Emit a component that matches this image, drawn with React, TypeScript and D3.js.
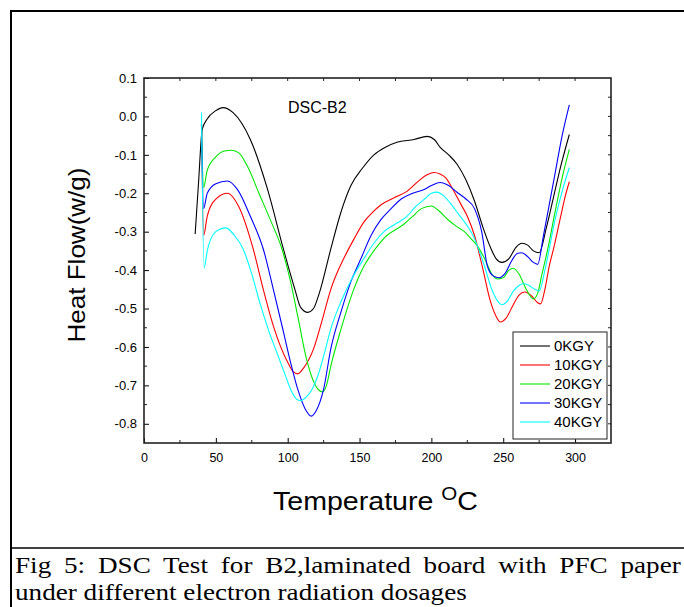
import React, { useRef, useEffect, useLayoutEffect, useState } from 'react';
import * as d3 from 'd3';

// tick values
const xTicks = [0, 50, 100, 150, 200, 250, 300];
const xMinor = [25, 75, 125, 175, 225, 275, 325];
const yTicks = [0.1, 0.0, -0.1, -0.2, -0.3, -0.4, -0.5, -0.6, -0.7, -0.8];
const yMinor = [0.05, -0.05, -0.15, -0.25, -0.35, -0.45, -0.55, -0.65, -0.75, -0.85];

const seriesNames = ['0KGY', '10KGY', '20KGY', '30KGY', '40KGY'];
const seriesColors = ['#000000', '#ff0000', '#00e800', '#0000ff', '#00ffff'];

// 0KGY
const temp0 = [35.6, 38, 40.5, 43.7, 50, 55, 62, 74, 86, 97, 105, 109, 114, 118, 122, 130, 137, 144, 152, 160, 168, 176, 188, 197, 202, 206, 212, 218, 224, 230, 236, 241, 245, 249, 254, 259, 263, 267, 271, 275, 280, 285, 290, 296];
const flow0 = [-0.306, -0.17, -0.034, -0.008, 0.015, 0.023, 0.01, -0.06, -0.19, -0.345, -0.45, -0.497, -0.51, -0.5, -0.46, -0.345, -0.25, -0.18, -0.135, -0.1, -0.08, -0.067, -0.06, -0.052, -0.06, -0.08, -0.1, -0.125, -0.165, -0.22, -0.29, -0.34, -0.37, -0.38, -0.37, -0.34, -0.33, -0.335, -0.35, -0.355, -0.29, -0.21, -0.13, -0.047];

// 10KGY
const temp10 = [40, 41.5, 44, 50, 58, 66, 76, 83, 90, 100, 104, 107, 111, 118, 124, 130, 139, 146, 153, 159, 165, 175, 183, 192, 197, 202, 206, 210, 215, 220, 225, 230, 236, 241, 245, 248, 252, 257, 261, 265, 270, 274, 276, 279, 282, 285, 290, 293, 296];
const flow10 = [-0.02, -0.31, -0.26, -0.215, -0.2, -0.235, -0.345, -0.45, -0.545, -0.64, -0.665, -0.67, -0.655, -0.605, -0.53, -0.45, -0.37, -0.32, -0.275, -0.25, -0.23, -0.21, -0.195, -0.165, -0.152, -0.146, -0.15, -0.16, -0.19, -0.225, -0.26, -0.31, -0.4, -0.48, -0.52, -0.535, -0.525, -0.49, -0.465, -0.457, -0.468, -0.485, -0.488, -0.45, -0.39, -0.345, -0.26, -0.21, -0.17];

// 20KGY
const temp20 = [40, 41.5, 44, 50, 56, 61, 66, 72, 80, 88, 96, 102, 107, 113, 118, 121, 124, 127, 130, 137, 145, 153, 158, 163, 169, 175, 181, 187, 193, 200, 205, 211, 217, 223, 228, 232, 237, 242, 246, 250, 254, 257, 261, 266, 271, 274, 277, 281, 286, 291, 296];
const flow20 = [-0.02, -0.185, -0.14, -0.105, -0.09, -0.088, -0.095, -0.13, -0.2, -0.27, -0.345, -0.43, -0.52, -0.63, -0.69, -0.71, -0.717, -0.7, -0.65, -0.555, -0.46, -0.39, -0.36, -0.335, -0.31, -0.295, -0.28, -0.26, -0.24, -0.233, -0.245, -0.267, -0.285, -0.3, -0.32, -0.337, -0.37, -0.41, -0.423, -0.42, -0.4, -0.395, -0.41, -0.45, -0.475, -0.46, -0.41, -0.345, -0.25, -0.16, -0.086];

// 30KGY
const temp30 = [40, 41.5, 44, 50, 58, 65, 74, 83, 90, 97, 102, 107, 112, 116.5, 120, 125, 130, 137, 144, 151, 158, 165, 172, 179, 187, 195, 200, 206, 212, 218, 224, 230, 235, 239, 243, 247, 251, 256, 260, 263, 267, 271, 274, 278, 282, 286, 291, 296];
const flow30 = [-0.02, -0.24, -0.2, -0.175, -0.168, -0.19, -0.26, -0.345, -0.45, -0.56, -0.64, -0.71, -0.76, -0.78, -0.765, -0.71, -0.605, -0.51, -0.43, -0.37, -0.31, -0.268, -0.24, -0.215, -0.2, -0.19, -0.18, -0.172, -0.18, -0.198, -0.215, -0.24, -0.3, -0.39, -0.415, -0.42, -0.41, -0.375, -0.356, -0.355, -0.365, -0.38, -0.385, -0.31, -0.23, -0.15, -0.05, 0.03];

// 40KGY
const temp40 = [40, 41.8, 44, 50, 57, 63, 69, 75, 81, 87, 93, 98, 102, 106, 109, 113, 117, 121, 126, 130, 137, 145, 153, 160, 167, 175, 183, 189, 195, 200, 204, 208, 213, 219, 225, 229, 232, 237, 242, 246, 249, 253, 257, 261, 264, 268, 272, 275, 279, 282, 286, 291, 296];
const flow40 = [0.01, -0.395, -0.35, -0.3, -0.29, -0.31, -0.345, -0.41, -0.49, -0.56, -0.62, -0.67, -0.71, -0.735, -0.74, -0.73, -0.71, -0.675, -0.61, -0.553, -0.483, -0.42, -0.37, -0.33, -0.3, -0.28, -0.26, -0.235, -0.216, -0.2, -0.197, -0.205, -0.225, -0.255, -0.285, -0.31, -0.337, -0.39, -0.45, -0.48, -0.49, -0.48, -0.455, -0.44, -0.435, -0.44, -0.45, -0.454, -0.4, -0.345, -0.27, -0.195, -0.133];

const temps = [temp0, temp10, temp20, temp30, temp40];
const flows = [flow0, flow10, flow20, flow30, flow40];

const captionLine1 = 'Fig 5: DSC Test for B2,laminated board with PFC paper';
const captionLine2 = 'under different electron radiation dosages';

const sans = '"Liberation Sans", Arial, sans-serif';
const serif = '"Liberation Serif", "Times New Roman", serif';

export default function App() {
  const svgRef = useRef<SVGSVGElement>(null);
  const cap1Ref = useRef<SVGTextElement>(null);
  const cap2Ref = useRef<SVGTextElement>(null);
  const [cap, setCap] = useState({ s: 1, ws: 0 });

  const width = 684;
  const height = 607;
  const margin = { top: 78, right: 73, bottom: 164, left: 144 };

  useLayoutEffect(() => {
    // the caption in the original is stretched a bit and line 1 is justified
    if (!cap1Ref.current || !cap2Ref.current) return;
    const len1 = cap1Ref.current.getComputedTextLength();
    const len2 = cap2Ref.current.getComputedTextLength();
    const s = 452 / len2;
    const gaps = captionLine1.split(' ').length - 1;
    setCap({ s, ws: (666 / s - len1) / gaps });
  }, []);

  useEffect(() => {
    const svg = d3.select(svgRef.current);
    svg.select('.chart').remove();
    const g = svg.append('g').attr('class', 'chart');

    const x = d3.scaleLinear().domain([0, 325]).range([margin.left, width - margin.right]);
    const y = d3.scaleLinear().domain([-0.85, 0.1]).range([height - margin.bottom, margin.top]);
    const x0 = margin.left, x1 = width - margin.right;
    const y0 = height - margin.bottom, y1 = margin.top;

    // bottom axis
    const bottom = g.append('g')
      .attr('transform', `translate(0,${y0})`)
      .call(d3.axisBottom(x).tickValues(xTicks).tickSize(-5).tickPadding(10).tickFormat(d => String(d)));
    bottom.select('.domain').remove();
    bottom.selectAll('text').style('font', `12.5px ${sans}`).attr('fill', '#000');

    // left axis
    const left = g.append('g')
      .attr('transform', `translate(${x0},0)`)
      .call(d3.axisLeft(y).tickValues(yTicks).tickSize(-5).tickPadding(7).tickFormat(d => (+d).toFixed(1)));
    left.select('.domain').remove();
    left.selectAll('text').style('font', `13px ${sans}`).attr('fill', '#000');

    // minor + mirrored ticks
    const tk = g.append('g').attr('stroke', '#222').attr('stroke-width', 1);
    xMinor.filter(d => d < 325).forEach(d => {
      tk.append('line').attr('x1', x(d)).attr('x2', x(d)).attr('y1', y0).attr('y2', y0 - 3);
    });
    xTicks.concat(xMinor).filter(d => d > 0 && d < 325).forEach(d => {
      tk.append('line').attr('x1', x(d)).attr('x2', x(d)).attr('y1', y1).attr('y2', y1 + 3);
    });
    yMinor.filter(d => d > -0.85).forEach(d => {
      tk.append('line').attr('x1', x0).attr('x2', x0 + 3).attr('y1', y(d)).attr('y2', y(d));
    });
    yTicks.concat(yMinor).filter(d => d > -0.85 && d < 0.1).forEach(d => {
      tk.append('line').attr('x1', x1).attr('x2', x1 - 3).attr('y1', y(d)).attr('y2', y(d));
    });

    // curves
    const line = d3.line<[number, number]>()
      .x(d => x(d[0]))
      .y(d => y(d[1]))
      .curve(d3.curveMonotoneX);

    temps.forEach((t, i) => {
      const pts = t.map((v, j) => [v, flows[i][j]] as [number, number]);
      g.append('path')
        .datum(pts)
        .attr('fill', 'none')
        .attr('stroke', seriesColors[i])
        .attr('stroke-width', 1.1)
        .attr('d', line);
    });

    // frame
    g.append('rect')
      .attr('x', x0).attr('y', y1)
      .attr('width', x1 - x0).attr('height', y0 - y1)
      .attr('fill', 'none').attr('stroke', '#222').attr('stroke-width', 1.6);

    // legend
    const lg = g.append('g');
    lg.append('rect')
      .attr('x', 513).attr('y', 332).attr('width', 94).attr('height', 107)
      .attr('fill', '#fff').attr('stroke', '#222').attr('stroke-width', 1);
    seriesNames.forEach((name, i) => {
      const ly = 346 + i * 19;
      lg.append('line')
        .attr('x1', 520).attr('x2', 550).attr('y1', ly).attr('y2', ly)
        .attr('stroke', seriesColors[i]).attr('stroke-width', 1.1);
      lg.append('text')
        .attr('x', 554).attr('y', ly).attr('dy', '0.35em')
        .style('font', `15px ${sans}`)
        .text(name);
    });
  }, []);

  return (
    <svg ref={svgRef} width={width} height={height}
      style={{ position: 'absolute', left: 0, top: 0, background: '#fff' }}>
      {/* outer figure box */}
      <line x1={11} x2={684} y1={11} y2={11} stroke="#000" strokeWidth={2} />
      <line x1={11} x2={11} y1={10} y2={607} stroke="#000" strokeWidth={2} />
      <line x1={11} x2={684} y1={548} y2={548} stroke="#000" strokeWidth={1.6} />

      <text x={288} y={113} style={{ font: `16px ${sans}` }}>DSC-B2</text>

      <text transform="translate(85,255) rotate(-90)" textAnchor="middle"
        textLength={175} lengthAdjust="spacingAndGlyphs"
        style={{ font: `24px ${sans}` }}>Heat Flow(w/g)</text>

      <text x={273} y={510} textLength={205} lengthAdjust="spacingAndGlyphs"
        style={{ font: `25px ${sans}` }}>
        Temperature <tspan dy={-10} style={{ fontSize: '18px' }}>O</tspan><tspan dy={10}>C</tspan>
      </text>

      <g transform={`translate(15,0) scale(${cap.s},1)`}>
        <text ref={cap1Ref} x={0} y={573} wordSpacing={cap.ws}
          style={{ font: `23px ${serif}` }}>{captionLine1}</text>
        <text ref={cap2Ref} x={0} y={600} style={{ font: `23px ${serif}` }}>{captionLine2}</text>
      </g>
    </svg>
  );
}
